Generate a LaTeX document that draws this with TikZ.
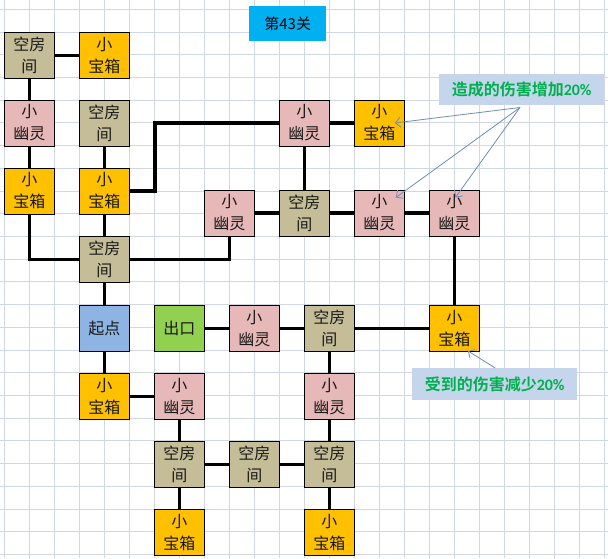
\documentclass[tikz,border=0pt]{standalone}
\usepackage{fontspec}
\newfontfamily\cjk{Noto Sans CJK SC}
\newfontfamily\cjkb{Noto Sans CJK SC Bold}
\newfontfamily\carl{Carlito}
\usetikzlibrary{arrows.meta,calc}
\definecolor{gridc}{RGB}{208,214,226}
\definecolor{emptyc}{RGB}{196,189,151}
\definecolor{chestc}{RGB}{255,192,0}
\definecolor{ghostc}{RGB}{230,185,184}
\definecolor{startc}{RGB}{141,180,226}
\definecolor{exitc}{RGB}{146,208,80}
\definecolor{titlec}{RGB}{0,176,240}
\definecolor{notec}{RGB}{197,214,236}
\definecolor{notetext}{RGB}{0,176,80}
\definecolor{arrowc}{RGB}{112,140,190}
\tikzset{
  room/.style={draw=black, line width=0.9pt, anchor=north west, minimum width=50pt, minimum height=46pt,
    inner sep=0pt, align=center, text=black!90, font=\cjk\fontsize{16}{22}\selectfont},
  emptyroom/.style={room, fill=emptyc},
  chest/.style={room, fill=chestc},
  ghost/.style={room, fill=ghostc},
  startroom/.style={room, fill=startc},
  exitroom/.style={room, fill=exitc},
  link/.style={line width=3.2pt, black},
  note/.style={anchor=north west, fill=notec, inner sep=0pt, text=notetext, font=\cjkb\fontsize{16}{20}\selectfont},
  pointer/.style={draw=arrowc, line width=0.8pt, -{Straight Barb[length=5pt,width=10pt]}}
}
\newcommand{\er}{空房\\间}
\newcommand{\ch}{小\\宝箱}
\newcommand{\gh}{小\\幽灵}
\begin{document}
\begin{tikzpicture}[x=1pt,y=-1pt]
\useasboundingbox (0,0) rectangle (608,558);
\fill[white] (0,0) rectangle (608,558);
% grid
\foreach \i in {0,...,24} \draw[gridc, line width=0.8pt] ({4+25*\i},0) -- ({4+25*\i},558);
\foreach \j in {0,...,24} \draw[gridc, line width=0.8pt] (0,{9.3+22.71*\j}) -- (608,{9.3+22.71*\j});
% title
\node[anchor=north west, fill=titlec, minimum width=77pt, minimum height=35pt, inner sep=0pt,
  font=\cjk\fontsize{15}{18}\selectfont] (title) at (249,6) {第43关};
% rooms
\node[emptyroom] (e1) at (4,32) {\er};
\node[chest] (t1) at (79,32) {\ch};
\node[ghost] (g1) at (4,99.5) {\gh};
\node[emptyroom] (e2) at (79,99.5) {\er};
\node[ghost] (g2) at (279,99.5) {\gh};
\node[chest] (t2) at (354,99.5) {\ch};
\node[chest] (t3) at (4,167.5) {\ch};
\node[chest] (t4) at (79,167.5) {\ch};
\node[ghost] (g3) at (204,189.5) {\gh};
\node[emptyroom] (e3) at (279,189.5) {\er};
\node[ghost] (g4) at (354,189.5) {\gh};
\node[ghost] (g5) at (429,189.5) {\gh};
\node[emptyroom] (e4) at (79,236) {\er};
\node[startroom] (s) at (79,305) {起点};
\node[exitroom] (x) at (154,305) {出口};
\node[ghost] (g6) at (229,305) {\gh};
\node[emptyroom] (e5) at (304,305) {\er};
\node[chest] (t5) at (429,305) {\ch};
\node[chest] (t6) at (79,373) {\ch};
\node[ghost] (g7) at (154,373) {\gh};
\node[ghost] (g8) at (304,373) {\gh};
\node[emptyroom] (e6) at (154,441) {\er};
\node[emptyroom] (e7) at (229,441) {\er};
\node[emptyroom] (e8) at (304,441) {\er};
\node[chest] (t7) at (154,509) {\ch};
\node[chest] (t8) at (304,509) {\ch};
% connectors
\draw[link] (e1) -- (t1);
\draw[link] (e1) -- (g1);
\draw[link] (g1) -- (t3);
\draw[link] (t3.south) |- (e4.west);
\draw[link] (e2) -- (t4);
\draw[link] (t4) -- (e4);
\draw[link] (t4.east) -- ++(25,0) |- (g2.west);
\draw[link] (e4.east) -| (g3.south);
\draw[link] (g3) -- (e3);
\draw[link] (g2) -- (e3);
\draw[link] (g2) -- (t2);
\draw[link] (e3) -- (g4);
\draw[link] (g4) -- (g5);
\draw[link] (g5) -- (t5);
\draw[link] (t5) -- (e5);
\draw[link] (e5) -- (g6);
\draw[link] (g6) -- (x);
\draw[link] (e4) -- (s);
\draw[link] (s) -- (t6);
\draw[link] (t6) -- (g7);
\draw[link] (g7) -- (e6);
\draw[link] (e6) -- (e7);
\draw[link] (e7) -- (e8);
\draw[link] (e8) -- (g8);
\draw[link] (g8) -- (e5);
\draw[link] (e6) -- (t7);
\draw[link] (e8) -- (t8);
% notes
\node[note, minimum width=165pt, minimum height=31pt] (n1) at (439,74) {造成的伤害增加{\carl\bfseries 20\%}};
\node[note, minimum width=165pt, minimum height=32pt] (n2) at (412,368) {受到的伤害减少{\carl\bfseries 20\%}};
\coordinate (p1) at (520,107.5);
\draw[pointer] (p1) -- ($(t2.east)+(-10,0)$);
\draw[pointer] (p1) -- ($(g4.north east)+(-9,8)$);
\draw[pointer] (p1) -- ($(g5.north)+(1,8)$);
\draw[pointer] ($(n2.north)+(0.5,0)$) -- ($(t5.south east)+(-12,-1)$);
\end{tikzpicture}
\end{document}
